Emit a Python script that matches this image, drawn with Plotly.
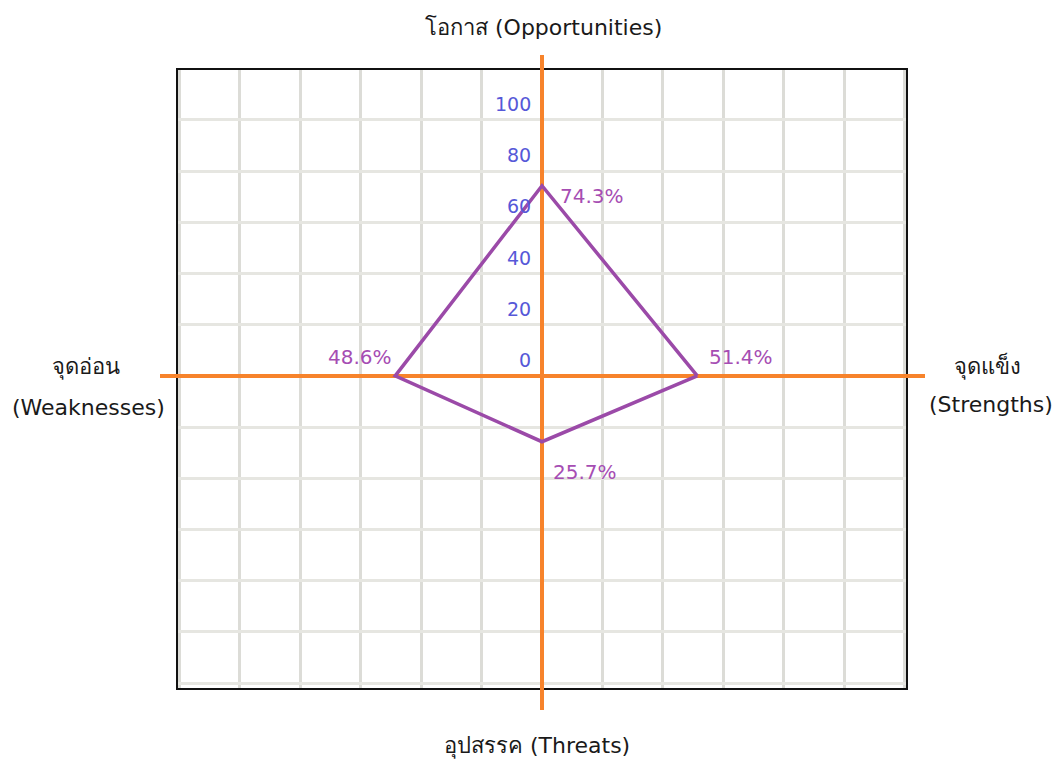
import plotly.graph_objects as go

# Data
categories = ["จุดแข็ง (Strengths)", "โอกาส (Opportunities)", "จุดอ่อน (Weaknesses)", "อุปสรรค (Threats)"]
values = [51.4, 74.3, 48.6, 25.7]
value_labels = ["51.4%", "74.3%", "48.6%", "25.7%"]
tick_values = [0, 20, 40, 60, 80, 100]
tick_labels = ["0", "20", "40", "60", "80", "100"]

# quadrant directions: S -> +x, O -> +y, W -> -x, T -> -y
dirs = [(1, 0), (0, 1), (-1, 0), (0, -1)]
px = [d[0] * v for d, v in zip(dirs, values)]
py = [d[1] * v for d, v in zip(dirs, values)]

XR = [-120.5, 120.5]
YR = [-121.9, 119.5]

FONT = "'DejaVu Sans', 'Noto Sans', sans-serif"
PURPLE = "#9b4aa8"
PURPLE_TXT = "#a64db3"
ORANGE = "#f7832b"
BLUE = "#5658d8"
TXT = "#1a1a1a"

W, H = 1057, 760
L, R, T, B = 178, 906, 70, 688


def pxx(xpix):
    return (xpix - L) / (R - L)


def pyy(ypix):
    return (B - ypix) / (B - T)


fig = go.Figure()
# orange cross axes inside the frame (drawn under the polygon)
fig.add_trace(go.Scatter(x=[0, 0], y=[YR[0] - 10, YR[1] + 10], mode="lines",
                         line=dict(color=ORANGE, width=4), hoverinfo="skip", showlegend=False))
fig.add_trace(go.Scatter(x=[XR[0] - 10, XR[1] + 10], y=[0, 0], mode="lines",
                         line=dict(color=ORANGE, width=4), hoverinfo="skip", showlegend=False))
fig.add_trace(go.Scatter(
    x=px + [px[0]], y=py + [py[0]],
    mode="lines",
    line=dict(color=PURPLE, width=3.5),
    hoverinfo="skip", showlegend=False,
))

# orange axis extensions beyond the frame
ext = [
    (pxx(542), pxx(542), 1.0, pyy(55)),
    (pxx(542), pxx(542), pyy(710), 0.0),
    (pxx(160), 0.0, pyy(376), pyy(376)),
    (1.0, pxx(925), pyy(376), pyy(376)),
]
for x0, x1, y0, y1 in ext:
    fig.add_shape(type="line", xref="paper", yref="paper", x0=x0, x1=x1, y0=y0, y1=y1,
                  line=dict(color=ORANGE, width=4), layer="above")

annotations = []
for tv, tl in zip(tick_values, tick_labels):
    annotations.append(dict(x=0, y=tv, xref="x", yref="y", text=tl, showarrow=False,
                            xanchor="right", yanchor="middle", xshift=-9, yshift=16,
                            font=dict(family=FONT, size=19, color=BLUE)))

offsets = [  # (xanchor, xshift, yshift)
    ("left", 10, 19),
    ("left", 16, -10),
    ("right", -1, 19),
    ("left", 9, -30),
]
for x, y, lab, (xa, xs, ys) in zip(px, py, value_labels, offsets):
    annotations.append(dict(x=x, y=y, xref="x", yref="y", text=lab, showarrow=False,
                            xanchor=xa, yanchor="middle", xshift=xs, yshift=ys,
                            font=dict(family=FONT, size=20, color=PURPLE_TXT)))

title_items = [  # text, center x px, center y px
    ("โอกาส (Opportunities)", 543, 27),
    ("อุปสรรค (Threats)", 537, 746),
    ("จุดอ่อน", 86, 367),
    ("(Weaknesses)", 88, 407),
    ("จุดแข็ง", 987, 366),
    ("(Strengths)", 991, 404),
]
for text, cx, cy in title_items:
    annotations.append(dict(x=pxx(cx), y=pyy(cy), xref="paper", yref="paper", text=text,
                            showarrow=False, xanchor="center", yanchor="middle",
                            font=dict(family=FONT, size=22, color=TXT)))

fig.update_layout(
    width=W, height=H,
    margin=dict(l=L, r=W - R, t=T, b=H - B, pad=0),
    paper_bgcolor="white", plot_bgcolor="white",
    showlegend=False,
    annotations=annotations,
    xaxis=dict(range=XR, tick0=0, dtick=20, showgrid=True, gridcolor="#dcdcd7", gridwidth=2.5,
               zeroline=False, showticklabels=False, ticks="",
               showline=True, linecolor="#111", linewidth=2, mirror=True, fixedrange=True),
    yaxis=dict(range=YR, tick0=0, dtick=20, showgrid=True, gridcolor="#e6e6e1", gridwidth=3,
               zeroline=False, showticklabels=False, ticks="",
               showline=True, linecolor="#111", linewidth=2, mirror=True, fixedrange=True),
)

fig.write_html("out.html", config={"displayModeBar": False},
               post_script="document.body.style.margin='0';document.body.style.overflow='hidden';")
